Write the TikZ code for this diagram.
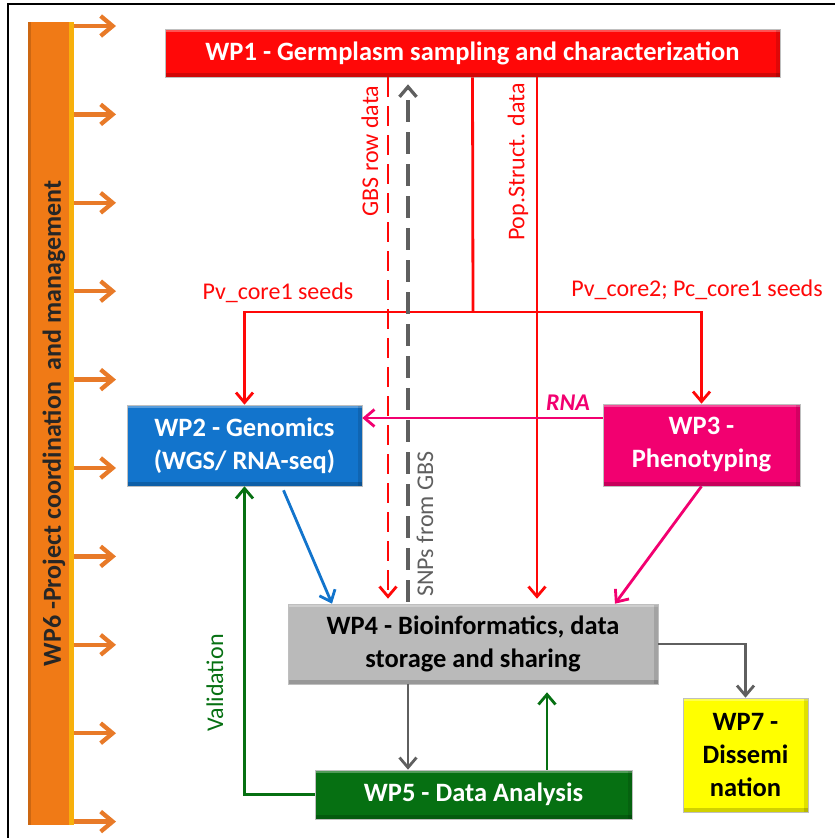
\documentclass[tikz,border=0pt]{standalone}
\usepackage{fontspec}
\setmainfont{Carlito}
\usepackage{xcolor}
\usepackage{tikz}
\usetikzlibrary{arrows.meta}
\definecolor{wpred}{RGB}{255,8,8}
\definecolor{wpblue}{RGB}{18,116,204}
\definecolor{wppink}{RGB}{242,0,112}
\definecolor{wpgray}{RGB}{186,186,186}
\definecolor{wpgreen}{RGB}{6,112,18}
\definecolor{wpyellow}{RGB}{255,255,0}
\definecolor{wporange}{RGB}{240,122,22}
\definecolor{arrorange}{RGB}{232,122,40}
\definecolor{linegray}{RGB}{95,95,95}
\tikzstyle{wpbox}=[draw=black!25, line width=0.6pt, shape=rectangle, inner sep=0pt, align=center, font=\bfseries\fontsize{26.5}{33}\selectfont, path picture={
  \fill[white, opacity=0.3] (path picture bounding box.north west) rectangle ([yshift=-3pt]path picture bounding box.north east);
  \fill[black, opacity=0.18] ([yshift=4pt]path picture bounding box.south west) rectangle (path picture bounding box.south east);
  \fill[black, opacity=0.12] ([xshift=-4pt]path picture bounding box.north east) rectangle (path picture bounding box.south east);}]
\tikzstyle{mgmtbar}=[shape=rectangle, fill=wporange, inner sep=0pt, path picture={
  \fill[black, opacity=0.15] (path picture bounding box.north west) rectangle ([xshift=3pt]path picture bounding box.south west);
  \fill[yellow!60!orange, opacity=0.7] ([xshift=-5pt]path picture bounding box.north east) rectangle (path picture bounding box.south east);}]
\tikzstyle{lbl}=[inner sep=0pt, font=\fontsize{24}{28}\selectfont]
\tikzstyle{flow}=[-{Straight Barb[length=10pt, width=17pt]}, line width=2.8pt]
\tikzstyle{mgmtarrow}=[-{Straight Barb[length=12pt, width=20pt]}, line width=4.3pt, color=arrorange]

\begin{document}
\begin{tikzpicture}[x=1pt, y=-1pt]
\useasboundingbox (0,0) rectangle (835,838);
\draw[line width=2.5pt] (8,838) -- (8,4) -- (835,4);

\node [mgmtbar, minimum width=46pt, minimum height=803pt] (wp6) at (51,423.5) {};
\node [rotate=90, font=\bfseries\fontsize{26}{30}\selectfont, text=black!85] (wp6text) at (54,423.5) {WP6 -Project coordination\ \ and management};
\foreach \i in {0,...,9} {
  \coordinate (t\i) at (116,26+88.4*\i);
  \draw[mgmtarrow] (wp6.east |- t\i) -- (t\i);
}

\node [wpbox, fill=wpred, text=white, minimum width=615pt, minimum height=48pt] (wp1) at (472.5,53) {WP1 - Germplasm\ sampling\ and\ characterization};
\node [wpbox, fill=wpblue, text=white, minimum width=235pt, minimum height=81pt] (wp2) at (244.5,445.5) {WP2 - Genomics\\(WGS/ RNA-seq)};
\node [wpbox, fill=wppink, text=white, minimum width=197pt, minimum height=82pt] (wp3) at (701.5,445) {WP3 -\\Phenotyping};
\node [wpbox, fill=wpgray, text=black, minimum width=370pt, minimum height=80pt] (wp4) at (473,644) {WP4 - Bioinformatics,\ data\\storage and sharing};
\node [wpbox, fill=wpgreen, text=white, minimum width=317pt, minimum height=49pt] (wp5) at (473.5,794.5) {WP5 - Data\ Analysis};
\node [wpbox, fill=wpyellow, text=black, minimum width=125pt, minimum height=114pt] (wp7) at (745.5,755) {WP7 -\\Dissemi\\nation};

% columns and rows of the connectors
\coordinate (split) at (473,312);
\coordinate (gbsx) at (388,0);
\coordinate (snpx) at (408,0);
\coordinate (popx) at (537,0);
\coordinate (anax) at (547,0);
\coordinate (rnay) at (0,418);

% seeds from WP1
\draw[wpred, line width=2.8pt] (wp1.south) -- (split);
\draw[flow, wpred] (split) -| (wp2.north);
\draw[flow, wpred] (split) -| (wp3.north);
\node [lbl, text=wpred] (seed1) at (278,293) {Pv\_core1 seeds};
\node [lbl, text=wpred] (seed2) at (697,290) {Pv\_core2; Pc\_core1 seeds};

% data to WP4
\draw[flow, wpred, dash pattern=on 20pt off 9pt, shorten >=5pt] (wp1.south -| gbsx) -- (wp4.north -| gbsx);
\node [lbl, rotate=90, text=wpred] (gbs) at (370,151) {GBS row data};
\draw[flow, linegray, line width=3.3pt, dash pattern=on 22pt off 10pt, shorten >=7pt, shorten <=2pt] (wp4.north -| snpx) -- (wp1.south -| snpx);
\node [lbl, rotate=90, text=linegray] (snp) at (425,524) {SNPs from GBS};
\draw[flow, wpred, shorten >=5pt] (wp1.south -| popx) -- (wp4.north -| popx);
\node [lbl, rotate=90, text=wpred] (pop) at (518,162) {Pop.Struct. data};

\draw[flow, wppink] (wp3.west |- rnay) -- (wp2.east |- rnay);
\node [lbl, text=wppink, font=\bfseries\itshape\fontsize{24}{28}\selectfont] (rna) at (568,403) {RNA};
\draw[flow, wpblue] ([xshift=39pt, yshift=-4pt]wp2.south) -- ([xshift=-141pt]wp4.north);
\draw[flow, wppink] (wp3.south) -- ([xshift=142pt]wp4.north);

% analysis loop and dissemination
\draw[flow, linegray] (wp4.south -| snpx) -- (wp5.north -| snpx);
\draw[flow, wpgreen] (wp5.north -| anax) -- ([yshift=-8pt]wp4.south -| anax);
\draw[flow, wpgreen] (wp5.west) -| (wp2.south);
\node [lbl, rotate=90, text=wpgreen] (valid) at (215,683) {Validation};
\draw[flow, linegray] (wp4.east) -| (wp7.north);
\end{tikzpicture}
\end{document}
